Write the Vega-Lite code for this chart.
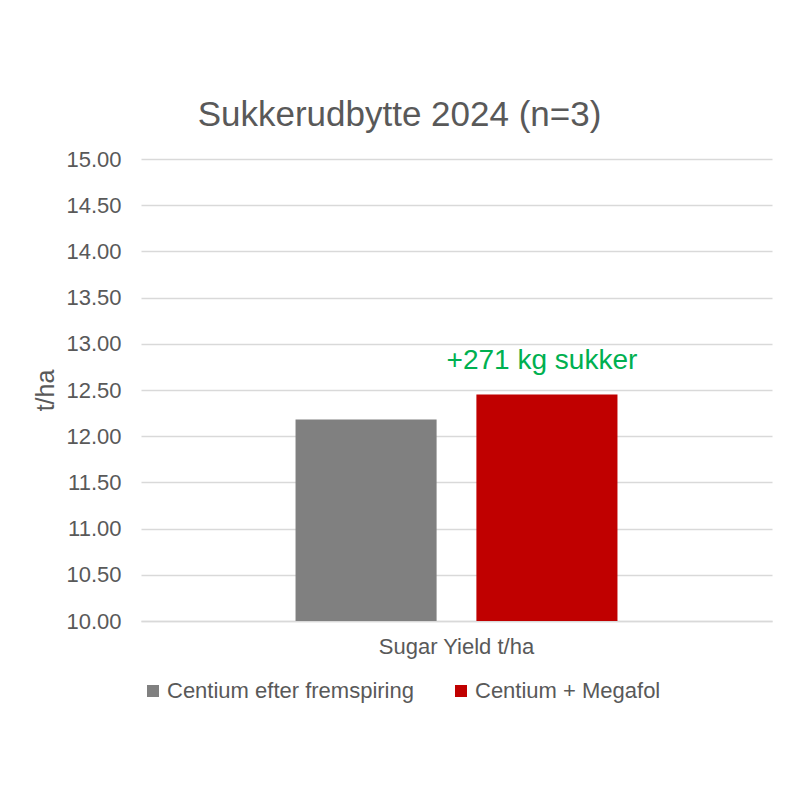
{
  "$schema": "https://vega.github.io/schema/vega-lite/v6.json",
  "autosize": {"type": "none"},
  "width": 631,
  "height": 462,
  "padding": {"left": 141, "top": 159, "right": 28, "bottom": 179},
  "background": "white",
  "title": {
    "text": "Sukkerudbytte 2024 (n=3)",
    "font": "Liberation Sans",
    "fontSize": 35,
    "fontWeight": "normal",
    "color": "#595959",
    "anchor": "middle",
    "dx": -57,
    "offset": 15
  },
  "data": {
    "values": [
      {"category": "Sugar Yield t/ha", "series": "Centium efter fremspiring", "value": 12.18, "note": ""},
      {"category": "Sugar Yield t/ha", "series": "Centium + Megafol", "value": 12.45, "note": "+271 kg sukker"}
    ]
  },
  "encoding": {
    "x": {
      "field": "category",
      "type": "nominal",
      "title": null,
      "scale": {"paddingInner": 0, "paddingOuter": 0.48},
      "axis": {
        "labelAngle": 0,
        "labelFont": "Liberation Sans",
        "labelFontSize": 22,
        "labelColor": "#595959",
        "labelPadding": 15,
        "ticks": false,
        "domain": true,
        "domainColor": "#d9d9d9",
        "domainWidth": 1.5
      }
    },
    "xOffset": {
      "field": "series",
      "type": "nominal",
      "sort": ["Centium efter fremspiring", "Centium + Megafol"],
      "scale": {"paddingInner": 0.22, "paddingOuter": 0}
    },
    "y": {
      "field": "value",
      "type": "quantitative",
      "title": "t/ha",
      "scale": {"domain": [10, 15], "zero": false, "nice": false},
      "axis": {
        "values": [10, 10.5, 11, 11.5, 12, 12.5, 13, 13.5, 14, 14.5, 15],
        "format": ".2f",
        "labelFont": "Liberation Sans",
        "labelFontSize": 22,
        "labelColor": "#595959",
        "labelPadding": 20,
        "titleFont": "Liberation Sans",
        "titleFontSize": 25,
        "titleFontWeight": "normal",
        "titleColor": "#595959",
        "titlePadding": 7,
        "ticks": false,
        "domain": false,
        "grid": true,
        "gridColor": "#d9d9d9",
        "gridWidth": 1.5
      }
    }
  },
  "layer": [
    {
      "mark": {"type": "bar", "clip": true},
      "encoding": {
        "y2": {"datum": 10},
        "color": {
          "field": "series",
          "type": "nominal",
          "sort": ["Centium efter fremspiring", "Centium + Megafol"],
          "scale": {"range": ["#808080", "#c00000"]},
          "legend": {
            "title": null,
            "orient": "none",
            "direction": "horizontal",
            "legendX": 1,
            "legendY": 521,
            "symbolType": "square",
            "symbolSize": 144,
            "symbolStrokeWidth": 0,
            "symbolOpacity": 1,
            "labelFont": "Liberation Sans",
            "labelFontSize": 22,
            "labelColor": "#595959",
            "labelOffset": 3,
            "labelLimit": 400,
            "columnPadding": 36
          }
        }
      }
    },
    {
      "mark": {
        "type": "text",
        "baseline": "bottom",
        "dy": -20,
        "dx": -5,
        "font": "Liberation Sans",
        "fontSize": 28,
        "color": "#00b050"
      },
      "encoding": {
        "text": {"field": "note"}
      }
    }
  ],
  "config": {
    "view": {"stroke": null}
  }
}
